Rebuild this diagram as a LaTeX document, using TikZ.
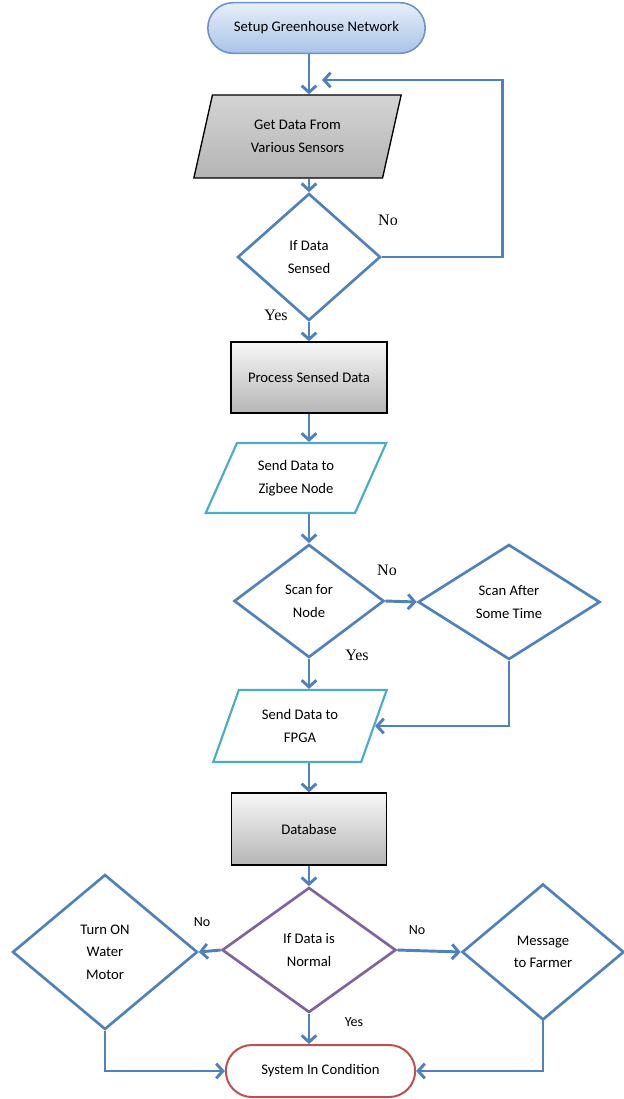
\documentclass[tikz,border=0pt]{standalone}
\usepackage{fontspec}
\setmainfont{Carlito}
\newfontfamily\labelfont{Liberation Serif}
\usepackage{tikz}
\usetikzlibrary{shapes.misc}
\usetikzlibrary{shapes.geometric}
\usetikzlibrary{arrows.meta}
\usetikzlibrary{calc}

\definecolor{flowblue}{HTML}{4F81BD}
\definecolor{startblue}{HTML}{6F93C8}
\definecolor{startlight}{HTML}{E8EFF9}
\definecolor{startdark}{HTML}{A9C3E8}
\definecolor{ioteal}{HTML}{4BACC6}
\definecolor{purpleedge}{HTML}{8064A2}
\definecolor{endred}{HTML}{C0504D}
\definecolor{graylight}{HTML}{F7F7F7}
\definecolor{graydark}{HTML}{B5B5B5}
\definecolor{datalight}{HTML}{D4D4D4}
\definecolor{datadark}{HTML}{B4B4B4}

\begin{document}
\begin{tikzpicture}[x=0.75pt,y=0.75pt,yscale=-1,xscale=1,
    every node/.style={font=\fontsize{11}{17}\selectfont, align=center, inner sep=2pt},
    flowline/.style={draw=flowblue, line width=2.2pt},
    flowarrow/.style={flowline, -{Straight Barb[length=5pt,width=11pt]}},
    startbox/.style={rounded rectangle, draw=startblue, line width=1.2pt, top color=startlight, bottom color=startdark},
    procbox/.style={rectangle, draw=black, line width=1pt, top color=graylight, bottom color=graydark},
    databox/.style={trapezium, trapezium stretches=true, draw=black, line width=1pt, top color=datalight, bottom color=datadark},
    iobox/.style={trapezium, trapezium stretches=true, draw=ioteal, line width=1.6pt, fill=white},
    decision/.style={diamond, draw=flowblue, line width=2pt, fill=white},
    endbox/.style={rounded rectangle, draw=endred, line width=1.5pt, fill=white},
    yesno/.style={font=\labelfont\fontsize{12}{14}\selectfont},
    yesnosmall/.style={font=\fontsize{10.5}{12}\selectfont}]
        %set diagram to the size of the page
        \useasboundingbox (0,0) rectangle (624,1099);
        \fill[white] (0,0) rectangle (624,1099);

        %Shape: Terminal
        \draw (316.5,28) node [startbox, minimum width=167pt, minimum height=38pt] (setup) {Setup Greenhouse Network};
        %Shape: Data
        \draw (297.5,136.5) node [databox, trapezium left angle=74, trapezium right angle=106, minimum width=156.75pt, minimum height=62.25pt] (getdata) {Get Data From\\Various Sensors};
        %Shape: Diamond
        \draw (309,257) node [decision, minimum width=107.25pt, minimum height=95.25pt] (sensed) {If Data\\Sensed};
        %Shape: Rectangle
        \draw (309,377.5) node [procbox, minimum width=117pt, minimum height=53.25pt] (process) {Process Sensed Data};
        %Shape: Data
        \draw (296,478) node [iobox, trapezium left angle=62, trapezium right angle=118, minimum width=136.5pt, minimum height=52.5pt] (zigbee) {Send Data to\\Zigbee Node};
        %Shape: Diamond
        \draw (309,601) node [decision, minimum width=112.5pt, minimum height=84.75pt] (scannode) {Scan for\\Node};
        %Shape: Diamond
        \draw (509,602) node [decision, minimum width=136.5pt, minimum height=86.25pt] (scanafter) {Scan After\\Some Time};
        %Shape: Data
        \draw (300,726) node [iobox, trapezium left angle=66, trapezium right angle=114, minimum width=130.5pt, minimum height=54pt] (fpga) {Send Data to\\FPGA};
        %Shape: Rectangle
        \draw (309,829) node [procbox, minimum width=116.25pt, minimum height=54pt] (database) {Database};
        %Shape: Diamond
        \draw (309,950) node [decision, draw=purpleedge, minimum width=130.5pt, minimum height=93.75pt] (normal) {If Data is\\Normal};
        %Shape: Diamond
        \draw (105,952) node [decision, minimum width=138.75pt, minimum height=116.25pt] (motor) {Turn ON\\Water\\Motor};
        %Shape: Diamond
        \draw (543,952) node [decision, minimum width=121.5pt, minimum height=102pt] (farmer) {Message\\to Farmer};
        %Shape: Terminal
        \draw (320.5,1071) node [endbox, minimum width=146pt, minimum height=39pt] (endsys) {System In Condition};

        % Text Node
        \draw (388,220) node [yesno] (nosensed) {No};
        \draw (276,315) node [yesno] (yessensed) {Yes};
        \draw (387,570) node [yesno] (noscan) {No};
        \draw (357,655) node [yesno] (yesscan) {Yes};
        \draw (202,922) node [yesnosmall] (nomotor) {No};
        \draw (417,930) node [yesnosmall] (nofarmer) {No};
        \draw (354,1022) node [yesnosmall] (yesnormal) {Yes};

        %Straight Lines
        \coordinate (loopin) at (322,80);
        \draw [flowarrow] (setup.south -| sensed.north) -- (getdata.north -| sensed.north);
        \draw [flowarrow] (getdata.south -| sensed.north) -- (sensed.north);
        \draw [flowarrow] (sensed.east) -- ++(121,0) |- (loopin);
        \draw [flowarrow] (sensed.south) -- (process.north);
        \draw [flowarrow] (process.south) -- (process.south |- zigbee.north);
        \draw [flowarrow] (zigbee.south -| scannode.north) -- (scannode.north);
        \draw [flowarrow] (scannode.east) -- (scanafter.west);
        \draw [flowarrow] (scannode.south) -- (scannode.south |- fpga.north);
        \draw [flowarrow] (scanafter.south) |- (fpga.east);
        \draw [flowarrow] (fpga.south -| database.north) -- (database.north);
        \draw [flowarrow] (database.south) -- (normal.north);
        \draw [flowarrow] (normal.west) -- (motor.east);
        \draw [flowarrow] (normal.east) -- (farmer.west);
        \draw [flowarrow] (normal.south) -- (normal.south |- endsys.north);
        \draw [flowarrow] (motor.south) |- (endsys.west);
        \draw [flowarrow] (farmer.south) |- (endsys.east);
\end{tikzpicture}
\end{document}
